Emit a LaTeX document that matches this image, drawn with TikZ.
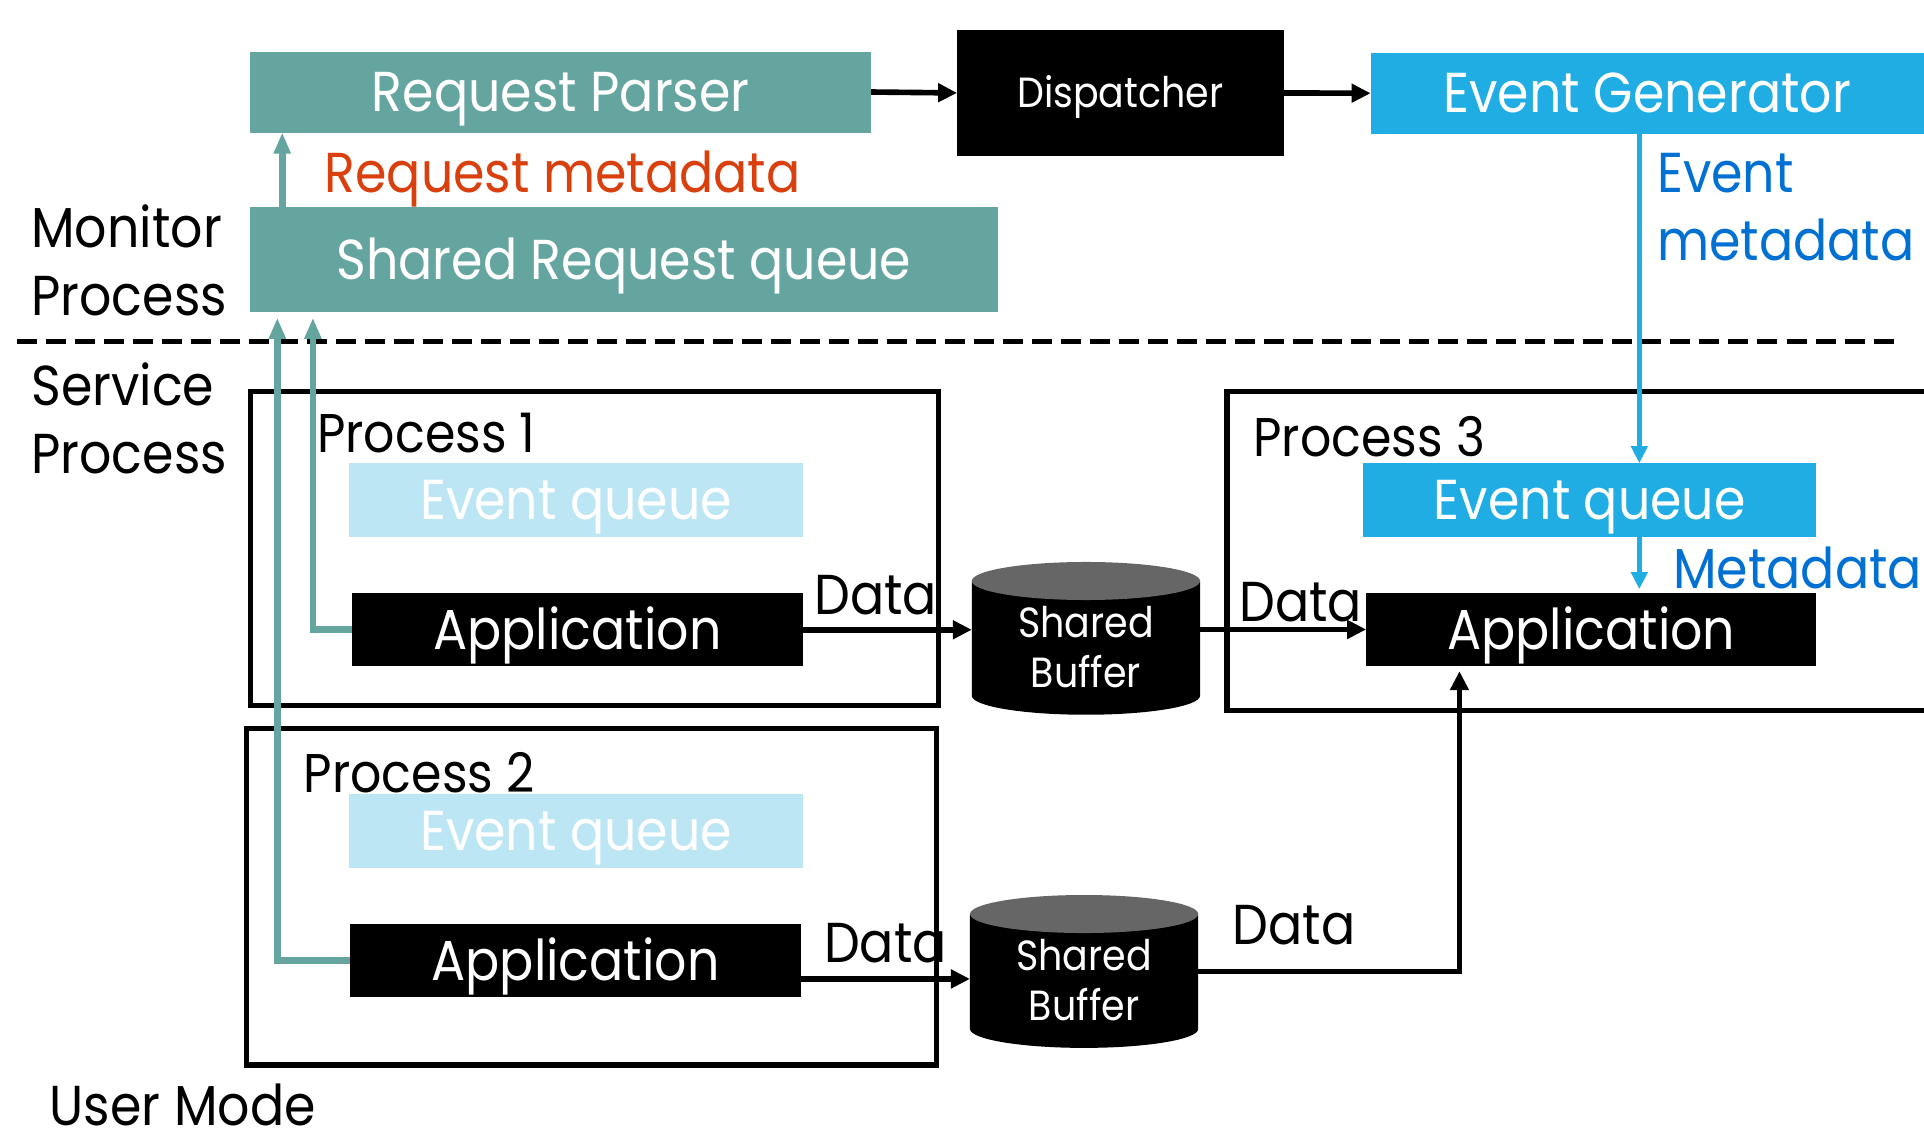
\documentclass[tikz,border=0pt]{standalone}
\usepackage{fontspec}
\setmainfont{Poppins}[FakeStretch=0.9]
\usetikzlibrary{arrows.meta,calc}

\definecolor{tealc}{RGB}{101,165,160}
\definecolor{evblue}{RGB}{31,173,228}
\definecolor{evlight}{RGB}{189,230,245}
\definecolor{reqred}{RGB}{217,64,13}
\definecolor{metablue}{RGB}{0,112,210}
\definecolor{bufgray}{RGB}{102,102,102}

\newcommand\fsL{\fontsize{16pt}{19.2pt}\selectfont}
\newcommand\fsM{\fontsize{15.5pt}{18.6pt}\selectfont}
\newcommand\fsS{\fontsize{12pt}{14.1pt}\selectfont}

% drawing unit
\newcommand\ux{0.01227cm}

% rectangular node from its corners: style, name, x0, y0, x1, y1 (y downwards), text
\newcommand\rectnode[7]{%
  \node[#1, minimum width={(#5-#3)*\ux}, minimum height={(#6-#4)*\ux}]
    (#2) at ({(#3+#5)/2},{-(#4+#6)/2}) {#7};}

% cylinder drawn inside the extent of a named (invisible) node
\newcommand\drawbuffer[1]{%
  \fill[black] ($(#1.north west)+(0,-15.5)$) -- ($(#1.south west)+(0,15.5)$)
    arc[start angle=180, end angle=360, x radius=93, y radius=15.5]
    -- ($(#1.north east)+(0,-15.5)$) -- cycle;
  \fill[bufgray] ($(#1.north)+(0,-15.5)$) ellipse[x radius=93, y radius=15.5];
}

\tikzset{
  blk/.style={inner sep=0pt, outer sep=0pt, text=white, text depth=0pt},
  bigtxt/.style={font=\fsL, text height=11.2pt},
  smalltxt/.style={font=\fsS, text height=8.4pt},
  tealbox/.style={blk, bigtxt, fill=tealc},
  bluebox/.style={blk, bigtxt, fill=evblue},
  lightbox/.style={blk, bigtxt, fill=evlight},
  blackbox/.style={blk, bigtxt, fill=black},
  procbox/.style={draw=black, line width=1.5pt, inner sep=0pt, outer sep=0pt},
  region/.style={draw=none, inner sep=0pt, outer sep=0pt},
  lbl/.style={inner sep=0pt, anchor=base west, font=\fsL},
  proclbl/.style={inner sep=0pt, anchor=base west, font=\fsM},
  bufftext/.style={inner sep=0pt, text=white, font=\fsS, align=center},
  blackarrow/.style={draw=black, line width=1.6pt, -{Triangle[length=0.19cm,width=0.18cm]}},
  tealarrow/.style={draw=tealc, line width=1.9pt, -{Triangle[length=0.21cm,width=0.16cm]}},
  bluearrow/.style={draw=evblue, line width=1.5pt, -{Triangle[length=0.17cm,width=0.16cm]}},
  divider/.style={draw=black, line width=1.4pt, dash pattern=on 0.2cm off 0.09cm}
}

\begin{document}
\begin{tikzpicture}[x=\ux, y=\ux]
\clip (0,0) rectangle (1568,-925);

% ---------- monitor process ----------
\rectnode{tealbox}{rp}{204}{42}{710}{108}{Request Parser}
\rectnode{tealbox}{srq}{204}{169}{813}{254}{Shared Request queue}
\rectnode{blk, smalltxt, fill=black}{disp}{780}{24.5}{1046}{127}{Dispatcher}
\rectnode{bluebox}{eg}{1117}{43}{1568}{109}{Event Generator}

\draw[blackarrow] (rp.east) -- (disp.west);
\draw[blackarrow] (disp.east) -- (eg.west);
\draw[tealarrow] ($(srq.north west)+(26,0)$) -- ($(rp.south west)+(26,0)$);

\node[lbl, text=reqred] (reqmeta) at (264,-157) {Request metadata};
\node[inner sep=0pt, anchor=west, align=left, font=\fsL] (monlbl) at (25,-212) {Monitor\\Process};

% ---------- boundary ----------
\coordinate (dl) at (14,-278);
\coordinate (dr) at (1548,-278);
\draw[divider] (dl) -- (dr);

\node[inner sep=0pt, anchor=west, align=left, font=\fsL] (svclbl) at (25,-341) {Service\\Process};
\node[lbl] (usermode) at (40,-917) {User Mode};

% ---------- process 1 ----------
\rectnode{procbox}{p1}{204}{319}{765}{575}{}
\node[proclbl] (p1lbl) at (258,-369) {Process 1};
\rectnode{lightbox}{eq1}{284.5}{377.6}{654.5}{437.4}{Event queue}
\rectnode{blackbox}{app1}{286.7}{483.5}{654.5}{543}{Application}

% ---------- process 2 ----------
\rectnode{procbox}{p2}{201}{594}{763}{868}{}
\node[proclbl] (p2lbl) at (247,-646) {Process 2};
\rectnode{lightbox}{eq2}{284.5}{647.4}{654.3}{707.2}{Event queue}
\rectnode{blackbox}{app2}{285.3}{753}{652.8}{812.6}{Application}

% ---------- process 3 ----------
\rectnode{procbox}{p3}{1000}{319}{1620}{579}{}
\node[proclbl] (p3lbl) at (1021,-372) {Process 3};
\rectnode{bluebox}{eq3}{1111}{377.5}{1480.3}{437.4}{Event queue}
\rectnode{blackbox}{app3}{1113.4}{483}{1480.3}{543}{Application}

% ---------- shared buffers ----------
\rectnode{region}{sb1}{792}{458}{978}{582.5}{}
\drawbuffer{sb1}
\node[bufftext] (sb1t) at ($(sb1.center)+(0,-7)$) {Shared\\Buffer};

\rectnode{region}{sb2}{790.5}{729.4}{976.5}{854}{}
\drawbuffer{sb2}
\node[bufftext] (sb2t) at ($(sb2.center)+(0,-7)$) {Shared\\Buffer};

% ---------- requests towards the monitor ----------
\draw[tealarrow] (app1.west) -| ($(srq.south west)+(51,-5)$);
\draw[tealarrow] (app2.west) -| ($(srq.south west)+(22,-5)$);

% ---------- events towards process 3 ----------
\coordinate (evx) at (1336,0);
\draw[bluearrow] (eg.south -| evx) -- (eq3.north -| evx);
\draw[bluearrow, shorten >=0.035cm] (eq3.south -| evx) -- (app3.north -| evx);
\node[inner sep=0pt, anchor=west, align=left, font=\fsL, text=metablue] (evmeta) at (1350,-169) {Event\\metadata};
\node[lbl, text=metablue] (meta) at (1363,-480) {Metadata};

% ---------- data flow ----------
\draw[blackarrow] (app1.east) -- (app1.east -| sb1.west);
\node[lbl] (d1) at (663,-501) {Data};
\draw[blackarrow] (app3.west -| sb1.east) -- (app3.west);
\node[lbl] (d3) at (1009.6,-506.6) {Data};

\coordinate (a2out) at ($(app2.east)+(0,-15)$);
\draw[blackarrow] (a2out) -- (a2out -| sb2.west);
\node[lbl] (d2) at (671,-784) {Data};
\draw[blackarrow] (sb2.east) -| ($(app3.south west)+(76,-4)$);
\node[lbl] (d4) at (1004,-770) {Data};
\end{tikzpicture}
\end{document}
